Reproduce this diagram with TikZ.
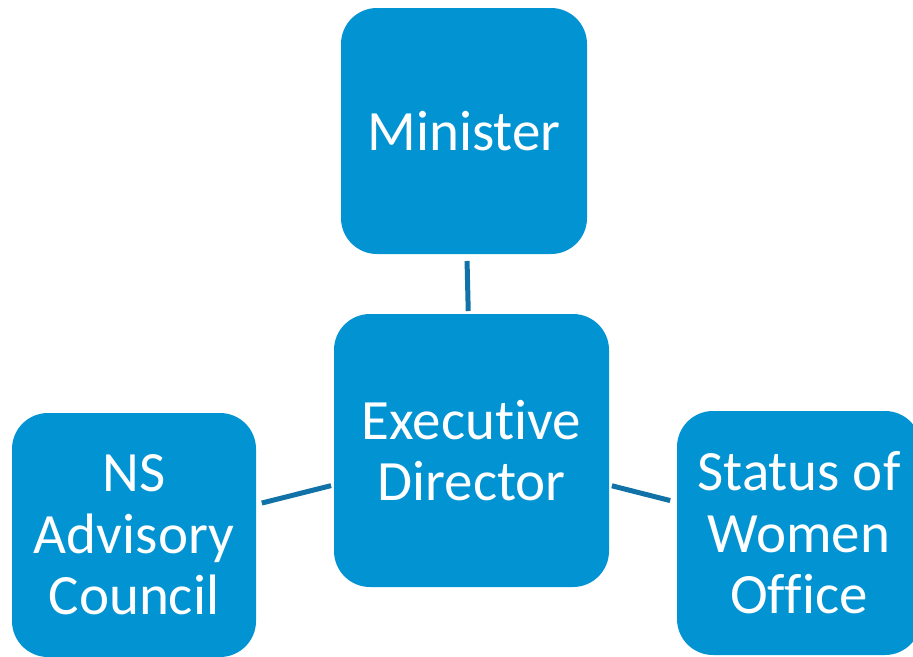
\documentclass[tikz,border=0pt]{standalone}
\usepackage{fontspec}
\setmainfont[Ligatures=NoCommon]{Carlito}
\definecolor{boxblue}{RGB}{2,147,211}
\definecolor{lineblue}{RGB}{16,114,166}
\begin{document}
\begin{tikzpicture}[x=1pt,y=-1pt,
  orgbox/.style={draw=none,fill=boxblue,rounded corners=36pt,inner sep=0pt,outer sep=0pt,
    text=white,align=center,font=\fontsize{57}{61.5}\selectfont},
  link/.style={draw=lineblue,line width=5pt}]
\useasboundingbox (0,0) rectangle (913,656);
\node[orgbox,minimum width=246pt,minimum height=246pt] (min) at (464,131) {Minister};
\node[orgbox,minimum width=275pt,minimum height=273pt] (ed) at (471.5,450.5) {Executive\\Director};
\node[orgbox,minimum width=244pt,minimum height=244pt] (ns) at (134,535) {NS\\Advisory\\Council};
\node[orgbox,minimum width=244pt,minimum height=244pt] (sw) at (799,533) {Status of\\Women\\Office};
\draw[link,shorten <=7pt,shorten >=3pt] (min) -- (ed);
\draw[link,shorten <=6pt,shorten >=3pt] (ns) -- (ed);
\draw[link,shorten <=3pt,shorten >=7pt] (ed) -- (sw);
\end{tikzpicture}
\end{document}
